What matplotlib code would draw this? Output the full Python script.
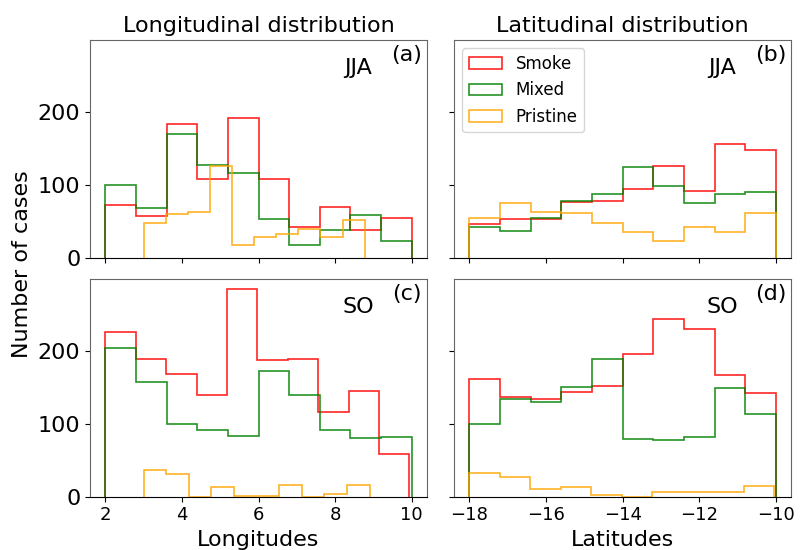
import numpy as np
import matplotlib
matplotlib.use("Agg")
import matplotlib.pyplot as plt

# ---- data, 10 bins per series
labels = ["Smoke", "Mixed", "Pristine"]
colors = ["red", "green", "orange"]

# longitude / latitude ranges (min, max) of each series
lon_rng_jja = [(2.0, 10.0), (2.0, 10.0), (3.0, 8.77)]
lon_rng_so  = [(2.0, 9.94), (2.0, 10.0), (3.0, 8.9)]
lat_rng_jja = [(-18.0, -10.0), (-18.0, -10.0), (-18.0, -10.0)]
lat_rng_so  = [(-18.0, -10.0), (-18.0, -10.0), (-18.0, -10.04)]

lon_jja_smoke    = [72, 58, 184, 108, 192, 108, 43, 70, 38, 55]
lon_jja_mixed    = [100, 68, 170, 128, 117, 53, 18, 38, 59, 24]
lon_jja_pristine = [48, 60, 63, 126, 18, 29, 33, 40, 29, 52]

lat_jja_smoke    = [47, 54, 54, 77, 78, 94, 126, 92, 156, 148]
lat_jja_mixed    = [42, 37, 55, 78, 87, 124, 98, 76, 87, 91]
lat_jja_pristine = [55, 76, 63, 61, 48, 36, 24, 42, 36, 61]

lon_so_smoke    = [226, 189, 168, 139, 284, 187, 189, 116, 145, 58]
lon_so_mixed    = [204, 157, 99, 91, 83, 172, 139, 91, 80, 82]
lon_so_pristine = [37, 31, 0, 13, 1.5, 1.5, 16, 0, 3, 16]

lat_so_smoke    = [161, 137, 134, 143, 151, 195, 243, 229, 166, 142]
lat_so_mixed    = [99, 133, 130, 150, 188, 79, 77, 81, 149, 113]
lat_so_pristine = [33, 27, 11, 13, 2, 0, 6, 6, 7, 14]

panels = [
    (0, 0, lon_rng_jja, [lon_jja_smoke, lon_jja_mixed, lon_jja_pristine], "JJA", "(a)"),
    (0, 1, lat_rng_jja, [lat_jja_smoke, lat_jja_mixed, lat_jja_pristine], "JJA", "(b)"),
    (1, 0, lon_rng_so,  [lon_so_smoke, lon_so_mixed, lon_so_pristine],    "SO",  "(c)"),
    (1, 1, lat_rng_so,  [lat_so_smoke, lat_so_mixed, lat_so_pristine],    "SO",  "(d)"),
]

fig, axs = plt.subplots(2, 2, figsize=(8, 5.5), dpi=100, sharey=True, sharex="col")
fig.subplots_adjust(left=0.1125, right=0.989, top=0.927, bottom=0.097,
                    wspace=0.08, hspace=0.095)

for r, c, rngs, series, season, tag in panels:
    ax = axs[r, c]
    for (lo, hi), counts, lab, col in zip(rngs, series, labels, colors):
        edges = np.linspace(lo, hi, len(counts) + 1)
        ax.hist(edges[:-1], bins=edges, weights=counts, histtype="step",
                color=col, lw=1.2, alpha=0.85, label=lab)
    ax.text(0.795, 0.87, season, transform=ax.transAxes, fontsize=16,
            ha="center", va="center")
    ax.text(0.94, 0.93, tag, transform=ax.transAxes, fontsize=16,
            ha="center", va="center")
    ax.tick_params(axis="x", labelsize=13)
    ax.tick_params(axis="y", labelsize=16)
    for s in ["left", "top", "right"]:
        ax.spines[s].set_color("#666666")

axs[0, 0].set_title("Longitudinal distribution", fontsize=16)
axs[0, 1].set_title("Latitudinal distribution", fontsize=16)
axs[1, 0].set_xlabel("Longitudes", fontsize=16, labelpad=4)
axs[1, 1].set_xlabel("Latitudes", fontsize=16, labelpad=4)
axs[1, 0].set_xticks([2, 4, 6, 8, 10])
axs[1, 1].set_xticks([-18, -16, -14, -12, -10])
axs[0, 0].set_yticks([0, 100, 200])
fig.text(0.0275, 0.519, "Number of cases", rotation=90, fontsize=16,
         ha="center", va="center")

axs[0, 1].legend(loc="upper left", fontsize=12)

plt.savefig("out.png", dpi=100)
